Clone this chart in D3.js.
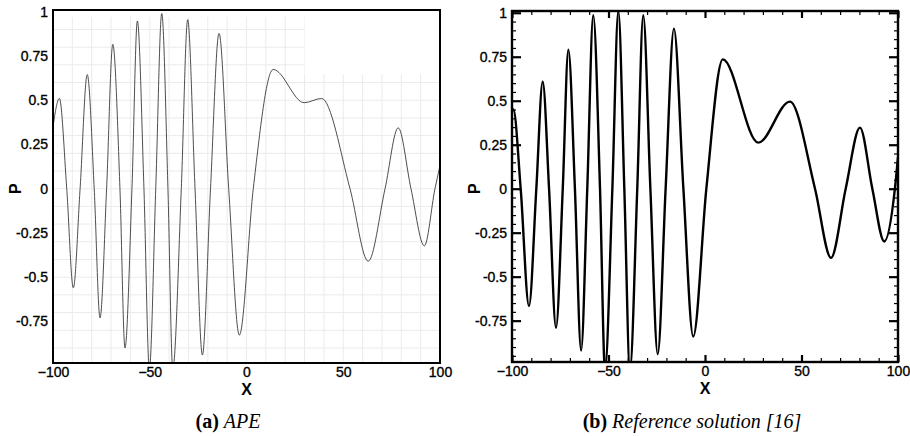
<!DOCTYPE html>
<html>
<head>
<meta charset="utf-8">
<script src="https://cdn.jsdelivr.net/npm/d3@7"></script>
<style>
    body { margin: 0; background: #fff; }
    .tick text { font-family: "Liberation Sans", Arial, sans-serif; font-size: 14px; fill: #000; stroke: #000; stroke-width: 0.35px; }
    .axis-title { font-family: "Liberation Sans", Arial, sans-serif; font-size: 16px; font-weight: bold; }
    .caption { font-family: "Liberation Serif", "Times New Roman", serif; font-size: 20px; }
</style>
</head>
<body>
<div id="chart"></div>
<script>

// values: extrema and zero crossings of P(x)
let apeX = [-100, -96.7, -92.9, -89.5, -86, -82.3, -78.7, -75.7, -72.3, -69.1, -65.4, -62.8, -59.2, -56.4,
    -53, -50.2, -46.9, -43.8, -40.6, -38.1, -33.7, -30.4, -26.6, -22.8, -18.6, -14.2, -9.2, -3.7, 3.5,
    13.8, 29.8, 38.8, 53.5, 62.9, 71.6, 78.4, 85, 91.9, 97.4, 100];
let apeP = [0.35, 0.51, 0, -0.56, 0, 0.645, 0, -0.73, 0, 0.816, 0, -0.90, 0, 0.948,
    0, -1.02, 0, 0.99, 0, -1.02, 0, 0.955, 0, -0.94, 0, 0.878, 0, -0.827, 0,
    0.674, 0.486, 0.51, 0, -0.41, 0, 0.344, 0, -0.323, 0, 0.13];

let refX = [-100, -99.3, -95.5, -91.2, -87.4, -84.1, -80.8, -77.2, -73.7, -70.8, -67.4, -64.2, -61, -57.9,
    -54.4, -51.8, -48, -44.9, -41.8, -38.9, -35.1, -32, -28.3, -24.5, -20.4, -16.1, -11.2, -6.1, 0.7,
    9.2, 27.6, 44.0, 57, 65.3, 72.9, 80.3, 86.7, 92.9, 98.4, 100];
let refP = [0.44, 0.45, 0, -0.667, 0, 0.608, 0, -0.79, 0, 0.79, 0, -0.92, 0, 0.986,
    0, -1.03, 0, 1.01, 0, -1.03, 0, 0.986, 0, -0.94, 0, 0.91, 0, -0.84, 0,
    0.735, 0.262, 0.495, 0, -0.393, 0, 0.347, 0, -0.30, 0, 0.18];

let xTicks = [-100, -50, 0, 50, 100];
let yTicks = [-0.75, -0.5, -0.25, 0, 0.25, 0.5, 0.75, 1];
let yTickLabels = ["-0.75", "-0.5", "-0.25", "0", "0.25", "0.5", "0.75", "1"];

let xDomain = [-100, 100];
let yDomain = [-0.985, 1.01];

let svg = d3.select("#chart").append("svg")
    .attr("width", 910)
    .attr("height", 436);

function drawPanel(opts) {

    let x = d3.scaleLinear().domain(xDomain).range([opts.left, opts.right]);
    let y = d3.scaleLinear().domain(yDomain).range([opts.bottom, opts.top]);

    let g = svg.append("g").attr("id", opts.id);

    // clip for the curve
    g.append("clipPath").attr("id", opts.id + "-clip")
        .append("rect")
        .attr("x", opts.left).attr("y", opts.top)
        .attr("width", opts.right - opts.left).attr("height", opts.bottom - opts.top);

    // faint grid (only on the APE panel, partially rendered as in the source)
    if (opts.grid) {
        let gridClip = g.append("clipPath").attr("id", opts.id + "-gridclip");
        gridClip.append("rect")
            .attr("x", x(-100)).attr("y", y(0.97))
            .attr("width", x(30) - x(-100)).attr("height", y(yDomain[0]) - y(0.97));
        gridClip.append("rect")
            .attr("x", x(30)).attr("y", y(0.645))
            .attr("width", x(100) - x(30)).attr("height", y(yDomain[0]) - y(0.645));

        let grid = g.append("g").attr("clip-path", `url(#${opts.id}-gridclip)`)
            .attr("stroke", "#ebebeb").attr("stroke-width", 1);
        grid.selectAll(".vg").data(d3.range(-90, 100, 10)).enter().append("line")
            .attr("x1", d => x(d)).attr("x2", d => x(d))
            .attr("y1", y(yDomain[1])).attr("y2", y(yDomain[0]));
        grid.selectAll(".hg").data(d3.range(-9, 10).map(d => d / 10)).enter().append("line")
            .attr("x1", x(-100)).attr("x2", x(100))
            .attr("y1", d => y(d)).attr("y2", d => y(d));
    }

    // inward ticks on all four sides (reference panel)
    if (opts.ticks) {
        let minorX = d3.range(-90, 100, 10).filter(d => d % 50 !== 0);
        let minorY = d3.range(-19, 21).map(d => d * 0.05).filter(d => Math.abs(d * 4 - Math.round(d * 4)) > 1e-6);

        let tg = g.append("g").attr("class", "ticks");
        tg.append("g").attr("transform", `translate(0,${opts.bottom})`)
            .call(d3.axisBottom(x).tickValues(minorX).tickSize(-4).tickFormat(""));
        tg.append("g").attr("transform", `translate(0,${opts.top})`)
            .call(d3.axisTop(x).tickValues(minorX).tickSize(-4).tickFormat(""));
        tg.append("g").attr("transform", `translate(${opts.left},0)`)
            .call(d3.axisLeft(y).tickValues(minorY).tickSize(-4).tickFormat(""));
        tg.append("g").attr("transform", `translate(${opts.right},0)`)
            .call(d3.axisRight(y).tickValues(minorY).tickSize(-4).tickFormat(""));
        tg.selectAll(".tick line").attr("stroke", "#000").attr("stroke-width", 1.2);

        let mg = g.append("g").attr("class", "major-ticks");
        mg.append("g").attr("transform", `translate(0,${opts.bottom})`)
            .call(d3.axisBottom(x).tickValues(xTicks).tickSize(-7).tickFormat(""));
        mg.append("g").attr("transform", `translate(0,${opts.top})`)
            .call(d3.axisTop(x).tickValues(xTicks).tickSize(-7).tickFormat(""));
        mg.append("g").attr("transform", `translate(${opts.left},0)`)
            .call(d3.axisLeft(y).tickValues(yTicks).tickSize(-9).tickFormat(""));
        mg.append("g").attr("transform", `translate(${opts.right},0)`)
            .call(d3.axisRight(y).tickValues(yTicks).tickSize(-9).tickFormat(""));
        mg.selectAll(".tick line").attr("stroke", "#000").attr("stroke-width", 2.2);

        g.selectAll(".domain").remove();
    }

    // tick labels
    let xLab = g.append("g").attr("transform", `translate(0,${opts.bottom})`)
        .call(d3.axisBottom(x).tickValues(xTicks).tickSize(0).tickPadding(4).tickFormat(d3.format("d")));
    let yLab = g.append("g").attr("transform", `translate(${opts.left},0)`)
        .call(d3.axisLeft(y).tickValues(yTicks).tickSize(0).tickPadding(5)
            .tickFormat((d, i) => yTickLabels[i]));
    xLab.select(".domain").remove();
    yLab.select(".domain").remove();

    // curve
    let line = d3.line()
        .x(d => x(d[0]))
        .y(d => y(d[1]))
        .curve(d3.curveMonotoneX);

    g.append("path")
        .datum(opts.xs.map((d, i) => [d, opts.ps[i]]))
        .attr("clip-path", `url(#${opts.id}-clip)`)
        .attr("d", line)
        .attr("fill", "none")
        .attr("stroke", opts.color)
        .attr("stroke-width", opts.lineWidth)
        .attr("stroke-linejoin", "round");

    // frame
    g.append("rect")
        .attr("x", opts.left).attr("y", opts.top)
        .attr("width", opts.right - opts.left).attr("height", opts.bottom - opts.top)
        .attr("fill", "none").attr("stroke", "#000").attr("stroke-width", opts.frameWidth);

    // axis titles
    g.append("text").attr("class", "axis-title")
        .attr("x", (opts.left + opts.right) / 2).attr("y", opts.bottom + 32)
        .attr("text-anchor", "middle").text("X");
    g.append("text").attr("class", "axis-title")
        .attr("transform", `translate(${opts.left - 38},${y(0)}) rotate(-90)`)
        .attr("text-anchor", "middle").attr("dy", "0.35em").text("P");

    // caption
    let cap = g.append("text").attr("class", "caption")
        .attr("x", opts.capX).attr("y", 428).attr("text-anchor", "middle");
    cap.append("tspan").attr("font-weight", "bold").text(opts.capTag + " ");
    cap.append("tspan").attr("font-style", "italic").text(opts.capText);
}

drawPanel({
    id: "ape", left: 53, right: 440, top: 10, bottom: 363,
    xs: apeX, ps: apeP, color: "#3a3a3a", lineWidth: 0.9, frameWidth: 2,
    grid: true, ticks: false, capX: 228, capTag: "(a)", capText: "APE"
});

drawPanel({
    id: "ref", left: 512, right: 898, top: 11, bottom: 362,
    xs: refX, ps: refP, color: "#000", lineWidth: 2.4, frameWidth: 2.4,
    grid: false, ticks: true, capX: 692, capTag: "(b)", capText: "Reference solution [16]"
});

</script>
</body>
</html>
